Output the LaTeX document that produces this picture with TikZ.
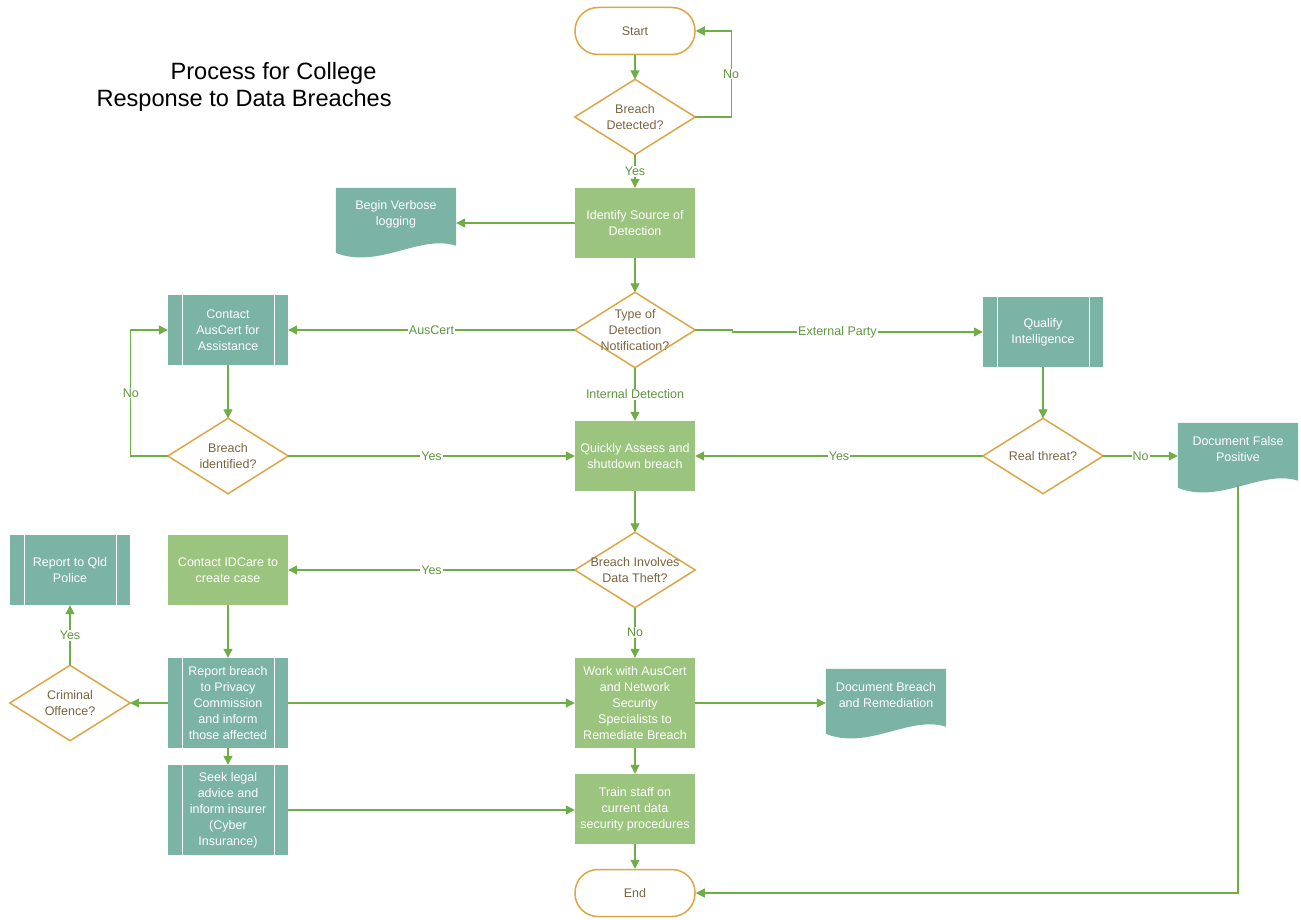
\documentclass[tikz,border=0pt]{standalone}
\usepackage{fontspec}
\setmainfont{Liberation Sans}
\usetikzlibrary{arrows.meta,calc,backgrounds}
\definecolor{gold}{HTML}{DDA645}
\definecolor{pgreen}{HTML}{9BC57E}
\definecolor{tealb}{HTML}{7BB3A5}
\definecolor{lgreen}{HTML}{6FAD46}
\definecolor{tbrown}{HTML}{7A6440}
\definecolor{lbltext}{HTML}{5E9640}
\newcommand\mydiamond[1]{\draw[gold, line width=1.5pt, fill=white] (#1.north) -- (#1.east) -- (#1.south) -- (#1.west) -- cycle;}
\newcommand\mydocshape[1]{\fill[tealb] (#1.north west) -- (#1.north east) -- ($(#1.north east)+(0,58)$) .. controls ($(#1.north east)+(-36,46)$) and ($(#1.north west)+(42,82)$) .. ($(#1.north west)+(0,65)$) -- cycle;}
\begin{document}
\begin{tikzpicture}[x=1pt,y=-1pt,
 font=\fontsize{12.5}{16}\selectfont,
 term/.style={draw=gold, line width=1.5pt, fill=white, rounded corners=23pt, minimum width=120pt, minimum height=47pt, text=tbrown},
 dec/.style={minimum width=120pt, minimum height=75pt, inner sep=0pt, text=tbrown, align=center},
 proc/.style={fill=pgreen, minimum width=120pt, minimum height=70pt, text=white, align=center, inner sep=1pt},
 pred/.style={fill=tealb, minimum width=120pt, minimum height=70pt, text=white, align=center, inner sep=1pt,
   path picture={\draw[white, line width=1pt] ([xshift=14pt]path picture bounding box.north west) -- ([xshift=14pt]path picture bounding box.south west) ([xshift=-14pt]path picture bounding box.north east) -- ([xshift=-14pt]path picture bounding box.south east);}},
 doc/.style={minimum width=120pt, minimum height=52pt, text=white, align=center, inner sep=0pt},
 conn/.style={draw=lgreen, line width=1.2pt, -{Triangle[length=9pt,width=9pt]}},
 lbl/.style={fill=white, text=lbltext, inner sep=1pt},
 title/.style={anchor=base west, font=\fontsize{23.6}{28}\selectfont, text=black}
]
\begin{scope}[on background layer]
\fill[white] (0,0) rectangle (1301,920);
\end{scope}
\useasboundingbox (0,0) rectangle (1301,920);

\node[title] (t1) at (167,80) {Process for College};
\node[title] (t2) at (93,107) {Response to Data Breaches};

\node[term] (start) at (635,31) {Start};
\node[dec] (bd) at (635,117) {Breach\\Detected?};
\node[proc] (isd) at (635,223) {Identify Source of\\Detection};
\node[doc] (bv) at (396,214) {Begin Verbose\\logging};
\node[dec] (tdn) at (635,330) {Type of\\Detection\\Notification?};
\node[pred] (ca) at (228,330) {Contact\\AusCert for\\Assistance};
\node[pred] (qi) at (1043,332) {Qualify\\Intelligence};
\node[proc] (qa) at (635,456) {Quickly Assess and\\shutdown breach};
\node[dec] (bi) at (228,456) {Breach\\identified?};
\node[dec] (rt) at (1043,456) {Real threat?};
\node[doc] (dfp) at (1238,449) {Document False\\Positive};
\node[dec] (bt) at (635,570) {Breach Involves\\Data Theft?};
\node[proc] (idc) at (228,570) {Contact IDCare to\\create case};
\node[proc, minimum height=90pt] (work) at (635,703) {Work with AusCert\\and Network\\Security\\Specialists to\\Remediate Breach};
\node[doc] (dbr) at (886,695) {Document Breach\\and Remediation};
\node[pred, minimum height=90pt] (rep) at (228,703) {Report breach\\to Privacy\\Commission\\and inform\\those affected};
\node[dec] (co) at (70,703) {Criminal\\Offence?};
\node[pred] (qld) at (70,570) {Report to Qld\\Police};
\node[pred, minimum height=90pt] (seek) at (228,810) {Seek legal\\advice and\\inform insurer\\(Cyber\\Insurance)};
\node[proc] (train) at (635,809) {Train staff on\\current data\\security procedures};
\node[term] (end) at (635,893) {End};

\begin{scope}[on background layer]
\mydiamond{bd}
\mydiamond{tdn}
\mydiamond{bi}
\mydiamond{rt}
\mydiamond{bt}
\mydiamond{co}
\mydocshape{bv}
\mydocshape{dfp}
\mydocshape{dbr}
\end{scope}

\draw[conn] (start.south) -- (bd.north);
\draw[conn] (bd.east) -- ++(36,0) |- (start.east) node[lbl,pos=0.25]{No};
\draw[conn] (bd.south) -- (isd.north) node[lbl,midway]{Yes};
\draw[conn] (isd.west) -- (isd.west -| bv.east);
\draw[conn] (isd.south) -- (tdn.north);
\draw[conn] (tdn.west) -- (ca.east) node[lbl,midway]{AusCert};
\draw[conn] (tdn.east) -- ++(37,0) |- (qi.west) node[lbl,pos=0.71]{External Party};
\draw[conn] (tdn.south) -- (qa.north) node[lbl,midway]{Internal Detection};
\draw[conn] (ca.south) -- (bi.north);
\draw[conn] (bi.west) -- ++(-37,0) |- (ca.west) node[lbl,pos=0.25]{No};
\draw[conn] (bi.east) -- (qa.west) node[lbl,midway]{Yes};
\draw[conn] (qi.south) -- (rt.north);
\draw[conn] (rt.west) -- (qa.east) node[lbl,midway]{Yes};
\draw[conn] (rt.east) -- (rt.east -| dfp.west) node[lbl,midway]{No};
\draw[conn] ([yshift=-10pt]dfp.south) |- (end.east);
\draw[conn] (qa.south) -- (bt.north);
\draw[conn] (bt.west) -- (idc.east) node[lbl,midway]{Yes};
\draw[conn] (bt.south) -- (work.north) node[lbl,midway]{No};
\draw[conn] (work.east) -- (work.east -| dbr.west);
\draw[conn] (idc.south) -- (rep.north);
\draw[conn] (rep.west) -- (co.east);
\draw[conn] (co.north) -- (qld.south) node[lbl,midway]{Yes};
\draw[conn] (rep.east) -- (work.west);
\draw[conn] (rep.south) -- (seek.north);
\draw[conn] (seek.east) -- (seek.east -| train.west);
\draw[conn] (work.south) -- (train.north);
\draw[conn] (train.south) -- (end.north);
\end{tikzpicture}
\end{document}
